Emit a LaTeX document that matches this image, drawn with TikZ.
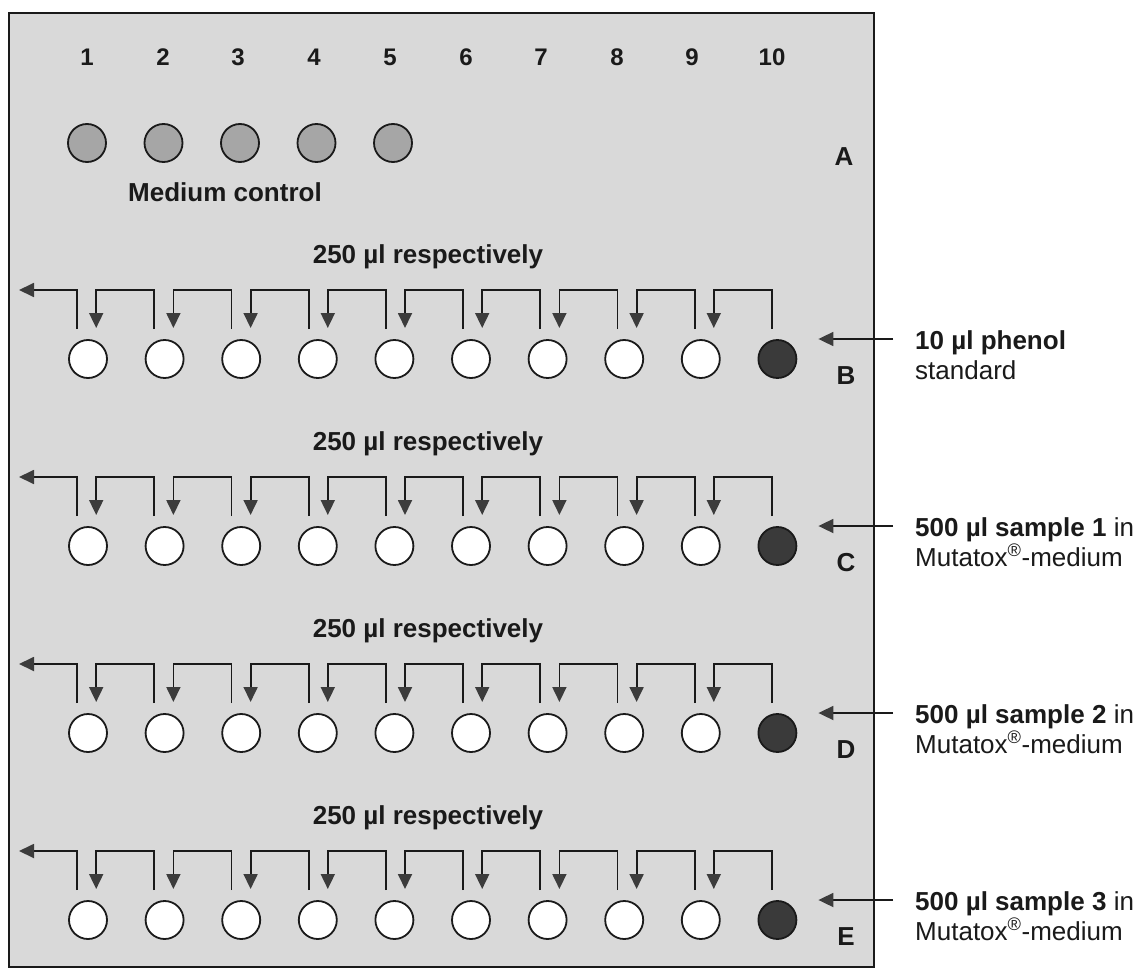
\documentclass[tikz,border=0pt]{standalone}
\usepackage{fontspec}
\setmainfont{Liberation Sans}
\usetikzlibrary{arrows.meta,calc}
\definecolor{panel}{HTML}{D9D9D9}
\definecolor{ctrl}{HTML}{A6A6A6}
\definecolor{darkwell}{HTML}{3A3A3A}
\definecolor{headcol}{HTML}{3C3C3C}
\definecolor{ink}{HTML}{1A1A1A}
\tikzset{
  well/.style={circle, draw=ink, line width=1.8pt, minimum size=38pt, inner sep=0pt},
  emptywell/.style={well, fill=white},
  ctrlwell/.style={well, fill=ctrl},
  fullwell/.style={well, fill=darkwell},
  bracket/.style={draw=ink, line width=1.8pt, -{Triangle[width=14pt,length=15pt,color=headcol]}},
  numtxt/.style={font=\fontsize{24}{28}\selectfont\bfseries, text=ink, inner sep=0pt},
  labtxt/.style={font=\fontsize{26}{30}\selectfont\bfseries, text=ink, inner sep=0pt},
  rtxt/.style={font=\fontsize{26}{30}\selectfont, text=ink, inner sep=0pt, anchor=base west},
}
\begin{document}
\begin{tikzpicture}[x=1pt, y=-1pt]
\useasboundingbox (0,0) rectangle (1148,971);
\fill[white] (0,0) rectangle (1148,971);
\draw[fill=panel, draw=ink, line width=1.6pt] (9,13) rectangle (874,967);

% column numbers
\foreach \k/\x in {1/87,2/163,3/238,4/314,5/390,6/466,7/541,8/617,9/692,10/772}
  \node[numtxt] (n\k) at (\x,57) {\k};

% row A
\foreach \k in {1,...,5}
  \node[ctrlwell] (A\k) at ({87+76.5*(\k-1)},143) {};
\node[labtxt] (medctl) at (225,192) {Medium control};
\node[labtxt] (Alet) at (844,157) {A};

% rows B-E
\foreach \r/\c in {B/359, C/546, D/733, E/920} {
  \foreach \k in {1,...,9}
    \node[emptywell] (\r\k) at ({88+76.6*(\k-1)},\c) {};
  \node[fullwell] (\r10) at ({88+76.6*9},\c) {};
  \node[labtxt] (\r lbl) at (428,\c-102) {250 µl respectively};
  \node[labtxt] (\r let) at (846,\c+17) {\r};
  \foreach \k [evaluate=\k as \ds using -11+0.6*(\k-1),
               evaluate=\k as \da using 7+0.6*\k,
               evaluate=\k as \p using int(\k-1)] in {2,...,10}
    \draw[bracket] ($(\r\k)+(\ds,-30)$) -- ++(0,-39) -| ($(\r\p)+(\da,-31)$);
  \coordinate (\r out) at ($(\r1)+(-69,-69)$);
  \draw[bracket] ($(\r1)+(-11,-30)$) |- (\r out);
  \coordinate (\r in) at (893,\c-20);
  \draw[bracket] (\r in) -- ($(\r10)+(41,-20)$);
}

% right-hand texts
\node[rtxt] (tB1) at (915,349) {\textbf{10 µl phenol}};
\node[rtxt] (tB2) at (915,379) {standard};
\node[rtxt] (tC1) at (915,536) {\textbf{500 µl sample 1} in};
\node[rtxt] (tC2) at (915,566) {Mutatox\textsuperscript{®}-medium};
\node[rtxt] (tD1) at (915,723) {\textbf{500 µl sample 2} in};
\node[rtxt] (tD2) at (915,753) {Mutatox\textsuperscript{®}-medium};
\node[rtxt] (tE1) at (915,910) {\textbf{500 µl sample 3} in};
\node[rtxt] (tE2) at (915,940) {Mutatox\textsuperscript{®}-medium};
\end{tikzpicture}
\end{document}
